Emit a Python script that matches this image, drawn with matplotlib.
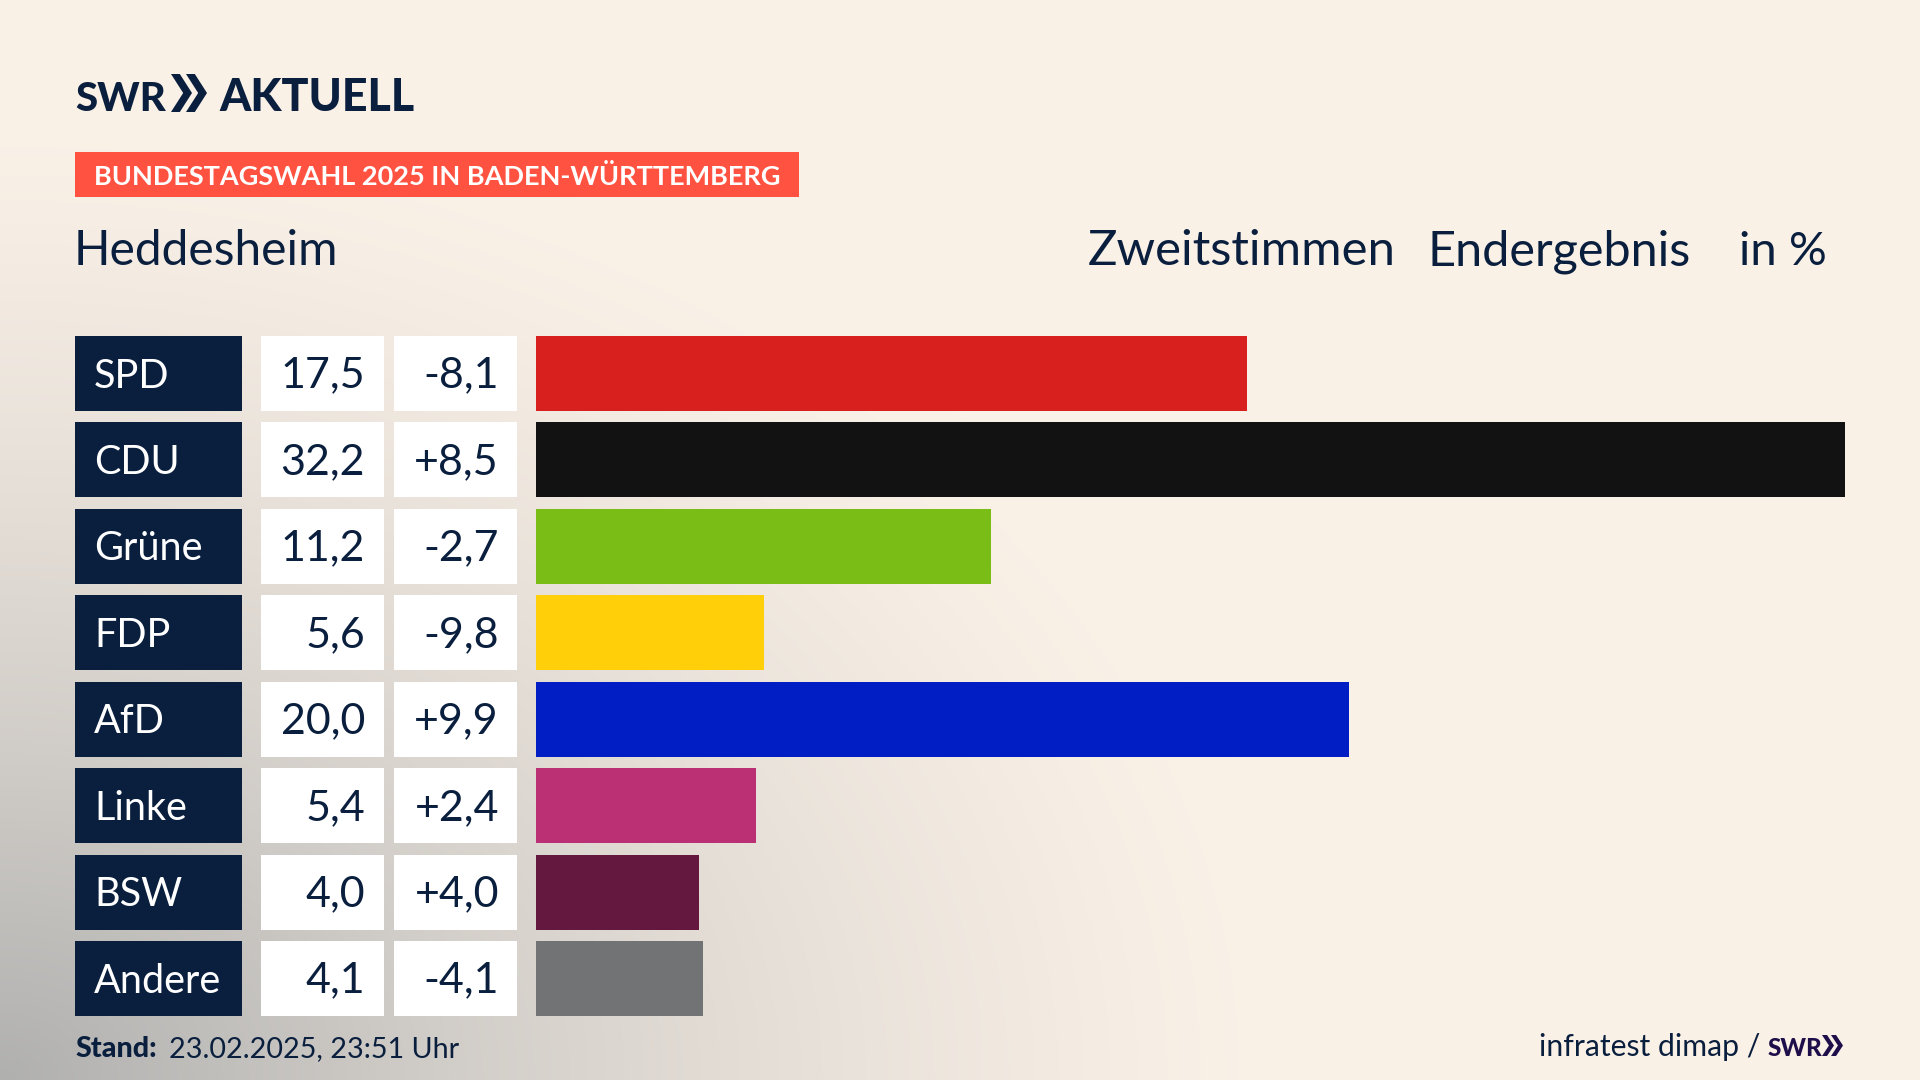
# Wahlergebnis chart, rebuilt with matplotlib
import numpy as np
import matplotlib
matplotlib.use("Agg")
import matplotlib.pyplot as plt
from matplotlib.patches import Rectangle, Polygon

# Data
parties = ["SPD", "CDU", "Grüne", "FDP", "AfD", "Linke", "BSW", "Andere"]
results = [17.5, 32.2, 11.2, 5.6, 20.0, 5.4, 4.0, 4.1]
changes = [-8.1, 8.5, -2.7, -9.8, 9.9, 2.4, 4.0, -4.1]
colors = ["#D8201F", "#121212", "#7ABD17", "#FFCF0A", "#001EC4", "#BB3075", "#65183F", "#727375"]

NAVY = "#0A1F3E"
FONT = "Lato"

fig = plt.figure(figsize=(19.2, 10.8), dpi=100)

# Background, cream with a grey glow from the lower left corner
bg = fig.add_axes([0, 0, 1, 1], zorder=0)
yy, xx = np.mgrid[0:1080:270j, 0:1920:480j]
dist = np.sqrt((xx / 1300) ** 2 + ((1080 - yy) / 980) ** 2)
t = np.clip(1 - dist, 0, 1) ** 1.4
cream = np.array([250, 241, 231]) / 255
grey = np.array([176, 176, 175]) / 255
img = cream + (grey - cream) * t[..., None]
bg.imshow(img, extent=[0, 1920, 1080, 0], aspect="auto", interpolation="bilinear")
bg.axis("off")

# Bars, with the row pitch of the reference
top, pitch, bar_h = 336, 86.45, 75
bottom = top + 7 * pitch + bar_h
ax = fig.add_axes([536 / 1920, 1 - bottom / 1080, (1845 - 536) / 1920, (bottom - top) / 1080], zorder=1)
pos = np.arange(len(parties))
ax.barh(pos, results, height=bar_h / pitch, color=colors)
ax.set_xlim(0, max(results))
ax.set_ylim(7 + bar_h / pitch / 2, -bar_h / pitch / 2)
ax.axis("off")

# Overlay in pixels for boxes and texts
ov = fig.add_axes([0, 0, 1, 1], zorder=2)
ov.set_xlim(0, 1920)
ov.set_ylim(1080, 0)
ov.axis("off")


def fmt(v, sign=False):
    s = f"{v:+.1f}" if sign else f"{v:.1f}"
    return s.replace(".", ",")


def chevrons(x, y0, y1, w, gap, color):
    # the two arrows of the SWR logo
    mid = (y0 + y1) / 2
    for i in range(2):
        x0 = x + i * gap
        pts = [(x0, y0), (x0 + w * 0.42, y0), (x0 + w, mid), (x0 + w * 0.42, y1), (x0, y1), (x0 + w * 0.58, mid)]
        ov.add_patch(Polygon(pts, closed=True, color=color, lw=0))


# Logo
ov.text(75, 111, "SWR", family=FONT, weight="black", fontsize=29, color=NAVY, va="baseline")
chevrons(171, 74, 112, 21, 15, NAVY)
ov.text(219, 111, "AKTUELL", family=FONT, weight="black", fontsize=32.2, color=NAVY, va="baseline")

# Badge
ov.add_patch(Rectangle((75, 152), 724, 45, color="#FF5240", lw=0))
ov.text(94, 185, "BUNDESTAGSWAHL 2025 IN BADEN-WÜRTTEMBERG", family=FONT, weight="bold",
        fontsize=19.5, color="white", va="baseline")

# Header
ov.text(74, 265, "Heddesheim", family=FONT, fontsize=34.5, color=NAVY, va="baseline")
ov.text(1088, 265, "Zweitstimmen", family=FONT, fontsize=35.4, color=NAVY, va="baseline")
ov.text(1428, 265, "Endergebnis", family=FONT, fontsize=35, color=NAVY, va="baseline")
ov.text(1739, 265, "in %", family=FONT, fontsize=34, color=NAVY, va="baseline")

# Table rows
for i, party in enumerate(parties):
    y = top + i * pitch
    base = y + bar_h / 2 + 14
    ov.add_patch(Rectangle((75, y), 167, bar_h, color=NAVY, lw=0))
    ov.add_patch(Rectangle((261, y), 123, bar_h, color="white", lw=0))
    ov.add_patch(Rectangle((394, y), 123, bar_h, color="white", lw=0))
    ov.text(94, base, party, family=FONT, fontsize=28.5, color="white", va="baseline")
    ov.text(365, base, fmt(results[i]), family=FONT, fontsize=31, color=NAVY, va="baseline", ha="right")
    ov.text(499, base, fmt(changes[i], True), family=FONT, fontsize=31, color=NAVY, va="baseline", ha="right")

# Footer
ov.text(75, 1057, "Stand:", family=FONT, weight="black", fontsize=20.7, color=NAVY, va="baseline")
ov.text(169, 1057, "23.02.2025, 23:51 Uhr", family=FONT, fontsize=20.7, color=NAVY, va="baseline")
ov.text(1539, 1056, "infratest dimap /", family=FONT, fontsize=21.7, color=NAVY, va="baseline")
ov.text(1768, 1056, "SWR", family=FONT, weight="black", fontsize=17.5, color="#1E0F4A", va="baseline")
chevrons(1822, 1035, 1056, 12, 9, "#1E0F4A")

fig.savefig("out.png", dpi=100)
